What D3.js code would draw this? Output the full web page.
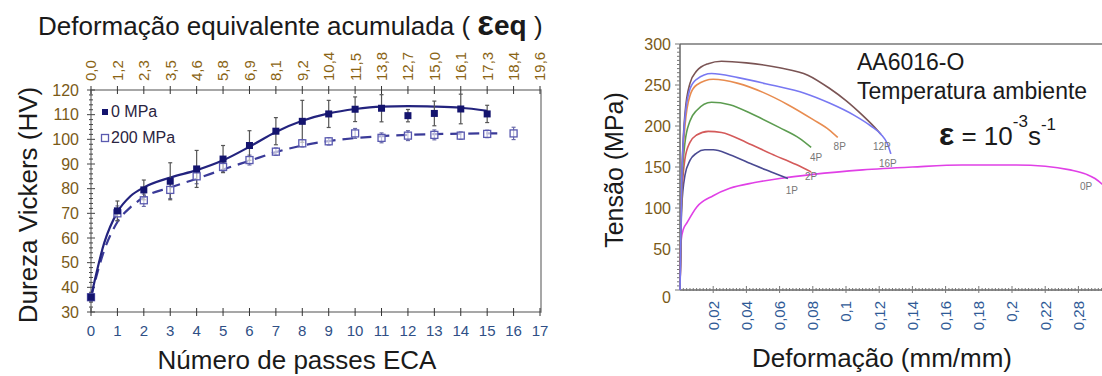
<!DOCTYPE html>
<html>
<head>
<meta charset="utf-8">
<script src="https://d3js.org/d3.v7.min.js"></script>
<style>
  body { margin: 0; background: #fff; }
  svg { display: block; font-family: "Liberation Sans", Arial, sans-serif; }
</style>
</head>
<body>
<svg id="chart" width="1102" height="376"></svg>
<script>
// ---- left chart: Vickers hardness vs ECA passes ----
const passes0 = [0, 1, 2, 3, 4, 5, 6, 7, 8, 9, 10, 11, 12, 13, 14, 15];
const hv0 = [36, 71, 79.5, 83, 88, 92, 97.5, 103.3, 107.3, 110.3, 112.2, 112.6, 109.6, 110.5, 112.3, 110.3];
const err0 = [1.5, 4, 4, 7.5, 7.5, 5.5, 6, 5.5, 8.5, 5.5, 5, 5.5, 2.5, 5, 6, 3.5];

const passes200 = [0, 1, 2, 3, 4, 5, 6, 7, 8, 9, 10, 11, 12, 13, 14, 15, 16];
const hv200 = [36, 70, 75.3, 79.5, 85, 88.8, 91.6, 95, 98.4, 99.2, 102.4, 100.6, 101.5, 101.8, 101.5, 102.2, 102.4];
const err200 = [1.5, 3, 2.5, 3.5, 3, 2, 2, 1.5, 1.5, 1.5, 2, 2, 2, 2, 1.5, 1.5, 2.5];

const fitPasses0 = [0, 0.5, 1, 1.5, 2, 3, 4, 5, 6, 7, 8, 9, 10, 11, 12, 13, 14, 15];
const fitHv0 = [36, 58, 70.5, 77, 80.5, 84.5, 87.5, 91.5, 97, 103, 107.5, 110.5, 112.3, 113.3, 113.5, 113.3, 112.8, 111.6];
const fitPasses200 = [0, 0.5, 1, 1.5, 2, 3, 4, 5, 6, 7, 8, 9, 10, 11, 12, 13, 14, 15, 15.5];
const fitHv200 = [36, 55, 66.5, 72.5, 76.5, 80.5, 84, 87.8, 91.3, 94.8, 97.5, 99.3, 100.5, 101.3, 101.8, 102.1, 102.3, 102.4, 102.4];

const passTicks = d3.range(0, 18);
const strainTopLabels = ["0,0", "1,2", "2,3", "3,5", "4,6", "5,8", "6,9", "8,1", "9,2", "10,4",
                         "11,5", "13,8", "12,7", "15,0", "16,1", "17,3", "18,4", "19,6"];
const hvTicks = [30, 40, 50, 60, 70, 80, 90, 100, 110, 120];

// ---- right chart: stress-strain curves, AA6016-O ----
const curve0P = [[0, 0], [0.0004, 40], [0.0008, 62], [0.002, 74], [0.0042, 82], [0.01, 101], [0.02, 115],
  [0.03, 124], [0.045, 131], [0.06, 136], [0.08, 141], [0.11, 146.5], [0.14, 150], [0.17, 152.5],
  [0.2, 152.5], [0.22, 151], [0.235, 146.5], [0.245, 141], [0.25, 136], [0.256, 126]];
const curve1P = [[0, 0], [0.001, 100], [0.003, 140], [0.006, 158], [0.01, 167], [0.015, 171], [0.02, 171],
  [0.03, 165], [0.045, 152], [0.055, 144], [0.065, 136]];
const curve2P = [[0, 0], [0.001, 110], [0.003, 160], [0.006, 180], [0.01, 189], [0.017, 193.5], [0.025, 192],
  [0.04, 180], [0.055, 166], [0.07, 153], [0.079, 144]];
const curve4P = [[0, 0], [0.001, 120], [0.003, 180], [0.006, 206], [0.01, 219], [0.019, 229], [0.03, 226],
  [0.045, 213], [0.06, 198], [0.072, 185], [0.079, 174]];
const curve8P = [[0, 0], [0.001, 130], [0.003, 200], [0.006, 237], [0.01, 250], [0.02, 257], [0.035, 252],
  [0.05, 241], [0.065, 226], [0.08, 208], [0.09, 195], [0.095, 186]];
const curve12P = [[0, 0], [0.001, 130], [0.003, 215], [0.006, 252], [0.01, 267], [0.017, 276], [0.025, 279],
  [0.04, 277], [0.06, 271], [0.077, 262], [0.09, 246], [0.1, 231], [0.11, 213], [0.117, 199], [0.121, 190]];
const curve16P = [[0, 0], [0.001, 130], [0.003, 210], [0.006, 245], [0.01, 257], [0.019, 264], [0.035, 259],
  [0.055, 250], [0.075, 240], [0.09, 228], [0.105, 213], [0.115, 200], [0.121, 190], [0.125, 178], [0.127, 166]];

const curveNames = ["0P", "1P", "2P", "4P", "8P", "12P", "16P"];
const strainTicks = [0.02, 0.04, 0.06, 0.08, 0.1, 0.12, 0.14, 0.16, 0.18, 0.2, 0.22, 0.24];
const strainLabels = ["0,02", "0,04", "0,06", "0,08", "0,1", "0,12", "0,14", "0,16", "0,18", "0,2", "0,22", "0,28"];
const stressTicks = [0, 50, 100, 150, 200, 250, 300];

const svg = d3.select("#chart");

// ================= LEFT =================
let x = d3.scaleLinear().domain([0, 17]).range([91, 540]);
let y = d3.scaleLinear().domain([30, 120]).range([312, 90]);
const left = svg.append("g");

// frame
left.append("rect")
  .attr("x", 91).attr("y", 90).attr("width", 450).attr("height", 222)
  .attr("fill", "none").attr("stroke", "#8a8a8a").attr("stroke-width", 1.5);

// integer ticks top and bottom, crossing the frame
[y(120), y(30)].forEach(yy => {
  left.selectAll(null).data(passTicks).enter().append("line")
    .attr("x1", d => x(d)).attr("x2", d => x(d))
    .attr("y1", yy - 4).attr("y2", yy + 4)
    .attr("stroke", "#333").attr("stroke-width", 1);
});
// y ticks, minor every 2
left.selectAll(null).data(d3.range(30, 121, 2)).enter().append("line")
  .attr("x1", d => d % 10 === 0 ? 87 : 89).attr("x2", d => d % 10 === 0 ? 95 : 93)
  .attr("y1", d => y(d)).attr("y2", d => y(d))
  .attr("stroke", "#444").attr("stroke-width", 1);

left.selectAll(null).data(hvTicks).enter().append("text")
  .attr("x", 79).attr("y", d => y(d)).attr("dy", "0.36em")
  .attr("text-anchor", "end").attr("font-size", 16).attr("fill", "#7a5a18")
  .text(d => d);

left.selectAll(null).data(passTicks).enter().append("text")
  .attr("x", d => x(d)).attr("y", 336)
  .attr("text-anchor", "middle").attr("font-size", 15).attr("fill", "#2f4f86")
  .text(d => d);

// top strain labels (rotated)
left.selectAll(null).data(passTicks).enter().append("text")
  .attr("transform", d => `translate(${x(d)},81) rotate(-90)`)
  .attr("dy", "0.36em").attr("font-size", 15).attr("fill", "#8a6414")
  .text(d => strainTopLabels[d]);

// titles
const ttl = left.append("text").attr("x", 38).attr("y", 35).attr("font-size", 26).attr("fill", "#1a1a1a");
ttl.append("tspan").text("Deformação equivalente acumulada ( ");
ttl.append("tspan").attr("font-weight", "bold").attr("font-size", 35).text("ε");
ttl.append("tspan").attr("font-weight", "bold").attr("font-size", 28).text("eq");
ttl.append("tspan").text(" )");

left.append("text")
  .attr("x", 297).attr("y", 369).attr("text-anchor", "middle")
  .attr("font-size", 26).attr("fill", "#1a1a1a")
  .text("Número de passes ECA");

left.append("text")
  .attr("transform", "translate(37,205) rotate(-90)")
  .attr("text-anchor", "middle").attr("font-size", 26).attr("fill", "#1a1a1a")
  .text("Dureza Vickers (HV)");

// fit lines
const fitLine = d3.line().curve(d3.curveMonotoneX).x(d => x(d[0])).y(d => y(d[1]));
left.append("path")
  .attr("d", fitLine(fitPasses200.map((p, i) => [p, fitHv200[i]])))
  .attr("fill", "none").attr("stroke", "#3a3a98").attr("stroke-width", 2.2)
  .attr("stroke-dasharray", "11,7");
left.append("path")
  .attr("d", fitLine(fitPasses0.map((p, i) => [p, fitHv0[i]])))
  .attr("fill", "none").attr("stroke", "#23237e").attr("stroke-width", 2.2);

// error bars
function errorBars(px, vals, errs, color) {
  const g = left.append("g").attr("stroke", color).attr("stroke-width", 1.2);
  px.forEach((p, i) => {
    const x0 = x(p), y1 = y(vals[i] + errs[i]), y2 = y(vals[i] - errs[i]);
    g.append("line").attr("x1", x0).attr("x2", x0).attr("y1", y1).attr("y2", y2);
    g.append("line").attr("x1", x0 - 2).attr("x2", x0 + 2).attr("y1", y1).attr("y2", y1);
    g.append("line").attr("x1", x0 - 2).attr("x2", x0 + 2).attr("y1", y2).attr("y2", y2);
  });
}
errorBars(passes200, hv200, err200, "#6a6aa8");
errorBars(passes0, hv0, err0, "#555");

// markers
left.selectAll(null).data(passes200).enter().append("rect")
  .attr("x", (d, i) => x(d) - 3.5).attr("y", (d, i) => y(hv200[i]) - 3.5)
  .attr("width", 7).attr("height", 7)
  .attr("fill", "#fff").attr("fill-opacity", 0.6).attr("stroke", "#5a5ab0").attr("stroke-width", 1.3);
left.selectAll(null).data(passes0).enter().append("rect")
  .attr("x", (d, i) => x(d) - 3.5).attr("y", (d, i) => y(hv0[i]) - 3.5)
  .attr("width", 7).attr("height", 7).attr("fill", "#14146e");

// legend
left.append("rect").attr("x", 102).attr("y", 109).attr("width", 6).attr("height", 6).attr("fill", "#14146e");
left.append("text").attr("x", 111).attr("y", 117).attr("font-size", 16).attr("fill", "#2a2440").text("0 MPa");
left.append("rect").attr("x", 101.5).attr("y", 134.5).attr("width", 7).attr("height", 7)
  .attr("fill", "none").attr("stroke", "#5a5ab0").attr("stroke-width", 1.3);
left.append("text").attr("x", 111).attr("y", 143).attr("font-size", 16).attr("fill", "#2a2440").text("200 MPa");

// ================= RIGHT =================
let x2 = d3.scaleLinear().domain([0, 0.26]).range([680, 680 + 0.26 * 1660]);
let y2 = d3.scaleLinear().domain([0, 300]).range([290, 44]);
const right = svg.append("g");

right.append("line").attr("x1", 680).attr("x2", 1102).attr("y1", 44).attr("y2", 44)
  .attr("stroke", "#999").attr("stroke-width", 2);
right.append("line").attr("x1", 680).attr("x2", 680).attr("y1", 44).attr("y2", 290)
  .attr("stroke", "#666").attr("stroke-width", 1.5);
right.append("line").attr("x1", 680).attr("x2", 1102).attr("y1", 290).attr("y2", 290)
  .attr("stroke", "#666").attr("stroke-width", 1.5);

// minor ticks
right.selectAll(null).data(d3.range(0, 301, 5)).enter().append("line")
  .attr("x1", d => d % 50 === 0 ? 675 : 677).attr("x2", 680)
  .attr("y1", d => y2(d)).attr("y2", d => y2(d))
  .attr("stroke", "#777").attr("stroke-width", 1);
right.selectAll(null).data(d3.range(1, 131)).enter().append("line")
  .attr("x1", d => x2(d * 0.002)).attr("x2", d => x2(d * 0.002))
  .attr("y1", d => d % 10 === 0 ? 286 : 288).attr("y2", d => d % 10 === 0 ? 293 : 291)
  .attr("stroke", "#777").attr("stroke-width", 1);

right.selectAll(null).data(stressTicks).enter().append("text")
  .attr("x", 671).attr("y", d => y2(d) + (d === 0 ? 7 : 0)).attr("dy", "0.36em")
  .attr("text-anchor", "end").attr("font-size", 16).attr("fill", "#7a5a18")
  .text(d => d);

right.selectAll(null).data(strainTicks).enter().append("text")
  .attr("transform", d => `translate(${x2(d)},301) rotate(-90)`)
  .attr("dy", "0.36em").attr("text-anchor", "end")
  .attr("font-size", 15).attr("fill", "#2f5a96")
  .text((d, i) => strainLabels[i]);

right.append("text")
  .attr("transform", "translate(623,170) rotate(-90)")
  .attr("text-anchor", "middle").attr("font-size", 25).attr("fill", "#1a1a1a")
  .text("Tensão (MPa)");
right.append("text")
  .attr("x", 882).attr("y", 367).attr("text-anchor", "middle")
  .attr("font-size", 26).attr("fill", "#1a1a1a")
  .text("Deformação (mm/mm)");

right.append("text").attr("x", 857).attr("y", 70).attr("font-size", 23).attr("fill", "#1a1a1a").text("AA6016-O");
right.append("text").attr("x", 857).attr("y", 99).attr("font-size", 23).attr("fill", "#1a1a1a").text("Temperatura ambiente");
const rate = right.append("text").attr("x", 939).attr("y", 145).attr("font-size", 26).attr("fill", "#1a1a1a");
rate.append("tspan").attr("font-weight", "bold").attr("font-size", 32).text("ε");
rate.append("tspan").text(" = 10");
rate.append("tspan").attr("font-size", 17).attr("dy", -18).text("-3");
rate.append("tspan").attr("dy", 18).text("s");
rate.append("tspan").attr("font-size", 17).attr("dy", -15).text("-1");

// curves
const curves = {
  "0P": curve0P, "1P": curve1P, "2P": curve2P, "4P": curve4P,
  "8P": curve8P, "12P": curve12P, "16P": curve16P
};
const colors = {
  "0P": "#e040e6", "1P": "#4a4a92", "2P": "#d45a5a", "4P": "#5c9c50",
  "8P": "#e88c50", "12P": "#7a5454", "16P": "#7878f2"
};
// label offsets from curve end, px
const labelOff = {
  "0P": [-14, 0], "1P": [4, 12], "2P": [0, 5], "4P": [5, 10],
  "8P": [2, 9], "12P": [1, 12], "16P": [-3, 10]
};
const stressLine = d3.line().curve(d3.curveMonotoneX).x(d => x2(d[0])).y(d => y2(d[1]));
curveNames.forEach(n => {
  right.append("path")
    .attr("d", stressLine(curves[n]))
    .attr("fill", "none").attr("stroke", colors[n]).attr("stroke-width", 1.6);
});
curveNames.forEach(n => {
  const last = curves[n][curves[n].length - 1];
  right.append("text")
    .attr("x", Math.min(x2(last[0]), 1100) + labelOff[n][0])
    .attr("y", y2(last[1]) + labelOff[n][1])
    .attr("dy", "0.35em").attr("text-anchor", "middle")
    .attr("font-size", 10).attr("fill", "#777")
    .text(n);
});
</script>
</body>
</html>
